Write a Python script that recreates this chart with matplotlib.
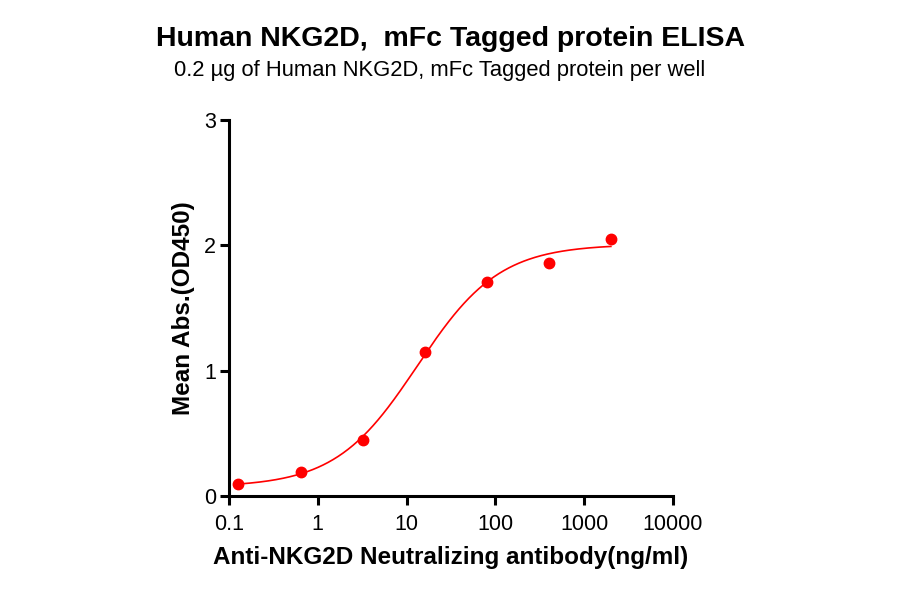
import matplotlib as mpl
mpl.use('Agg')
import matplotlib.pyplot as plt
import numpy as np

plt.rcParams['font.family'] = ['Liberation Sans', 'DejaVu Sans']

# antibody concentration (ng/ml) and mean OD450
conc = np.array([0.128, 0.64, 3.2, 16, 80, 400, 2000])
od450 = np.array([0.096, 0.19, 0.445, 1.15, 1.71, 1.86, 2.05])

title = 'Human NKG2D,  mFc Tagged protein ELISA'
subtitle = '0.2 \u00b5g of Human NKG2D, mFc Tagged protein per well'
xlabel = 'Anti-NKG2D Neutralizing antibody(ng/ml)'
ylabel = 'Mean Abs.(OD450)'

# 4PL fit: grid over ec50/hill, linear solve for bottom/top
best = None
for ec50 in np.logspace(0, 2, 400):
  for hill in np.linspace(0.5, 2.0, 151):
    g = 1.0 / (1.0 + (ec50 / conc) ** hill)
    A = np.column_stack([1 - g, g])
    coef, res, rk, sv = np.linalg.lstsq(A, od450, rcond=None)
    err = np.sum((A @ coef - od450) ** 2)
    if best is None or err < best[0]:
      best = (err, ec50, hill, coef[0], coef[1])
err, ec50, hill, bottom, top = best

xfit = np.logspace(np.log10(conc[0]), np.log10(conc[-1]), 300)
yfit = bottom + (top - bottom) / (1.0 + (ec50 / xfit) ** hill)

fig = plt.figure(figsize=(9, 5.94), dpi=100)
ax = fig.add_axes([0.2544, 0.165, 0.4933, 0.633])

red = '#ff0000'
ax.plot(xfit, yfit, color=red, lw=1.2)
ax.plot(conc, od450, 'o', color=red, ms=7.5, clip_on=False)

ax.set_xscale('log')
ax.set_xlim(0.1, 10000)
ax.set_ylim(0, 3)
ax.set_xticks([0.1, 1, 10, 100, 1000, 10000])
ax.set_xticklabels(['0.1', '1', '10', '100', '1000', '10000'])
ax.xaxis.set_minor_locator(mpl.ticker.NullLocator())
ax.set_yticks([0, 1, 2, 3])

for s in ['top', 'right']:
  ax.spines[s].set_visible(False)
for s in ['left', 'bottom']:
  ax.spines[s].set_linewidth(2.2)
ax.tick_params(width=2.2, length=6.5, labelsize=15.5, pad=3)
ax.tick_params(axis='x', pad=6.5)

ax.set_xlabel(xlabel, fontsize=17.5, fontweight='bold', labelpad=8)
ax.set_ylabel(ylabel, fontsize=17.5, fontweight='bold', labelpad=6)

fig.text(0.501, 0.935, title, ha='center', va='center', fontsize=20.5, fontweight='bold')
fig.text(0.489, 0.881, subtitle, ha='center', va='center', fontsize=15.8)

plt.savefig('out.png', dpi=100)
plt.close()
